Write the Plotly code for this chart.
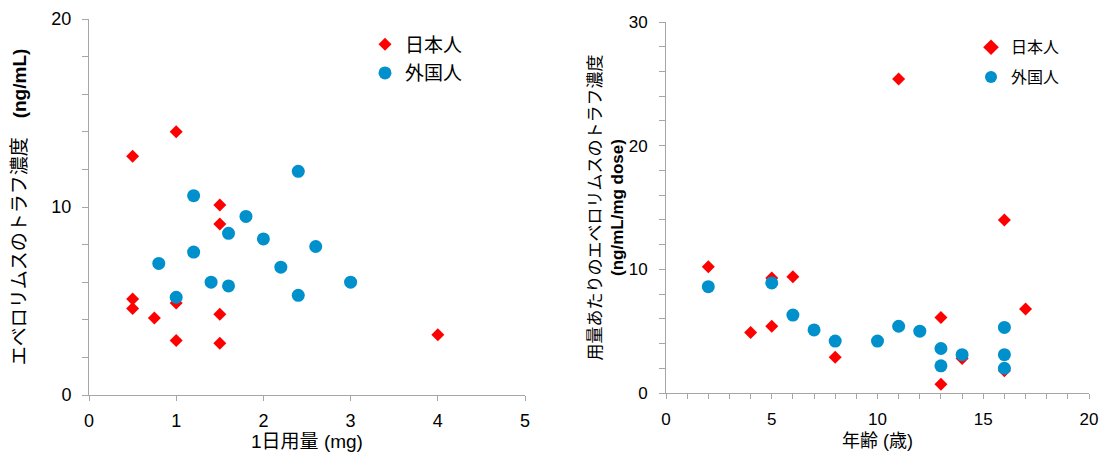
import plotly.graph_objects as go

# Left panel: daily dose (mg) vs trough concentration (ng/mL)
dose_jp = [0.5, 1.0, 1.5, 1.5, 0.5, 0.5, 0.75, 1.0, 1.5, 1.0, 1.5, 4.0]
trough_jp = [12.7, 14.0, 10.1, 9.1, 5.1, 4.6, 4.1, 4.9, 4.3, 2.9, 2.75, 3.2]
dose_fr = [2.4, 1.2, 1.8, 1.6, 2.0, 1.2, 2.6, 0.8, 2.2, 1.4, 1.6, 3.0, 2.4, 1.0]
trough_fr = [11.9, 10.6, 9.5, 8.6, 8.3, 7.6, 7.9, 7.0, 6.8, 6.0, 5.8, 6.0, 5.3, 5.2]

# Right panel: age (years) vs dose-normalised trough (ng/mL/mg dose)
age_jp = [11, 16, 2, 5, 6, 4, 5, 8, 13, 13, 14, 16, 17]
norm_jp = [25.4, 14.0, 10.2, 9.3, 9.4, 4.9, 5.4, 2.9, 6.1, 0.7, 2.8, 1.8, 6.8]
age_fr = [2, 5, 6, 7, 8, 10, 11, 12, 13, 13, 14, 16, 16, 16]
norm_fr = [8.6, 8.9, 6.3, 5.1, 4.2, 4.2, 5.4, 5.0, 3.6, 2.2, 3.1, 5.3, 3.1, 2.0]

name_jp = "日本人"
name_fr = "外国人"

RED = "#FF0000"
BLUE = "#0090CC"
AXIS = "#A6A6A6"
FONT = "Liberation Sans, Arial, Noto Sans CJK JP, sans-serif"

fig = go.Figure()

fig.add_trace(go.Scatter(x=dose_jp, y=trough_jp, mode="markers", name=name_jp,
                         marker=dict(symbol="diamond", size=10, color=RED),
                         xaxis="x", yaxis="y", legend="legend", legendgroup="a"))
fig.add_trace(go.Scatter(x=dose_fr, y=trough_fr, mode="markers", name=name_fr,
                         marker=dict(symbol="circle", size=13, color=BLUE),
                         xaxis="x", yaxis="y", legend="legend", legendgroup="b"))
fig.add_trace(go.Scatter(x=age_jp, y=norm_jp, mode="markers", name=name_jp,
                         marker=dict(symbol="diamond", size=10, color=RED),
                         xaxis="x2", yaxis="y2", legend="legend2", legendgroup="c"))
fig.add_trace(go.Scatter(x=age_fr, y=norm_fr, mode="markers", name=name_fr,
                         marker=dict(symbol="circle", size=13, color=BLUE),
                         xaxis="x2", yaxis="y2", legend="legend2", legendgroup="d"))

common = dict(showgrid=False, zeroline=False, showline=True, linecolor=AXIS,
              linewidth=1, ticks="outside", tickcolor=AXIS, tickwidth=1,
              automargin=False)

fig.update_layout(
    width=1102, height=452,
    margin=dict(l=81, r=21, t=11, b=65),
    paper_bgcolor="white", plot_bgcolor="white",
    font=dict(family=FONT, color="#000000"),
    xaxis=dict(domain=[0, 0.436], range=[0, 5], dtick=1, ticklen=5,
               tickfont=dict(size=18), ticklabelstandoff=4,
               title=dict(text="1日用量 (mg)", font=dict(size=19), standoff=5),
               anchor="y", **common),
    yaxis=dict(domain=[0, 1], range=[0, 20], dtick=10, ticklen=6,
               tickfont=dict(size=18), ticklabelstandoff=7,
               minor=dict(dtick=2, ticks="outside", ticklen=6, tickcolor=AXIS),
               title=dict(text="エベロリムスのトラフ濃度　<b>(ng/mL)</b>",
                          font=dict(size=19), standoff=19),
               anchor="x", **common),
    xaxis2=dict(domain=[0.577, 1], range=[0, 20], dtick=5, ticklen=5,
                tickfont=dict(size=17), ticklabelstandoff=6,
                minor=dict(dtick=1, ticks="outside", ticklen=5, tickcolor=AXIS),
                title=dict(text="年齢 (歳)", font=dict(size=18), standoff=5),
                anchor="y2", **common),
    yaxis2=dict(domain=[0.0053, 0.992], range=[0, 30], dtick=10, ticklen=6,
                tickfont=dict(size=17), ticklabelstandoff=8,
                minor=dict(dtick=2, ticks="outside", ticklen=6, tickcolor=AXIS),
                title=dict(text="用量あたりのエベロリムスのトラフ濃度<br><b>(ng/mL/mg dose)</b>",
                           font=dict(size=17), standoff=0),
                anchor="x2", **common),
    legend=dict(x=0.276, y=0.983, xanchor="left", yanchor="top",
                font=dict(size=19), bgcolor="rgba(0,0,0,0)", tracegroupgap=1,
                itemsizing="trace"),
    legend2=dict(x=0.882, y=0.97, xanchor="left", yanchor="top",
                 font=dict(size=16), bgcolor="rgba(0,0,0,0)", tracegroupgap=6,
                 itemsizing="constant"),
    showlegend=True,
)

fig.write_html("out.html")
